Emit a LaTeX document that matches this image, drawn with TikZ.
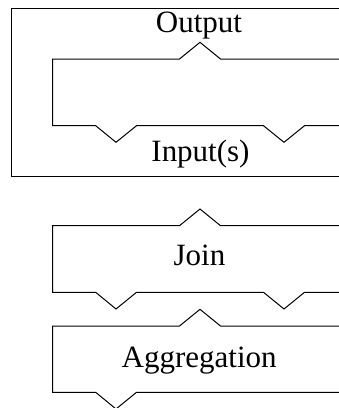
\documentclass[tikz,border=0pt]{standalone}
\usepackage{fontspec}
\setmainfont{Liberation Serif}
\begin{document}
\begin{tikzpicture}[x=1pt,y=-1pt,
  shapeline/.style={line width=1pt,black,line join=miter},
  lbl/.style={inner sep=0pt,anchor=base,font=\fontsize{31}{37}\selectfont}]
\useasboundingbox (0,0) rectangle (339,408);
\clip (0,0) rectangle (339,408);
% outer frame
\draw[shapeline] (350,8) -- (11,8) -- (11,176) -- (350,176);
% inner operator shape
\draw[shapeline] (350,59) -- (220.5,59) -- (200,42.3) -- (179.5,59) -- (52.7,59)
  -- (52.7,125.7) -- (95.7,125.7) -- (116,142.3) -- (136.5,125.7)
  -- (263.5,125.7) -- (284,142.3) -- (304.5,125.7) -- (350,125.7);
% join shape
\draw[shapeline] (350,225.7) -- (220.5,225.7) -- (200,209) -- (179.5,225.7) -- (52.7,225.7)
  -- (52.7,292.3) -- (95.7,292.3) -- (116,309) -- (136.5,292.3)
  -- (263.5,292.3) -- (284,309) -- (304.5,292.3) -- (350,292.3);
% aggregation shape
\draw[shapeline] (350,326) -- (220.5,326) -- (200,309.3) -- (179.5,326) -- (52.7,326)
  -- (52.7,392.3) -- (95.7,392.3) -- (116,409) -- (136.5,392.3) -- (350,392.3);
\node[lbl] (out) at (199,32.3) {Output};
\node[lbl] (in) at (200.5,161.5) {Input(s)};
\node[lbl] (join) at (199.5,265) {Join};
\node[lbl] (agg) at (199.2,367.3) {Aggregation};
\end{tikzpicture}
\end{document}
